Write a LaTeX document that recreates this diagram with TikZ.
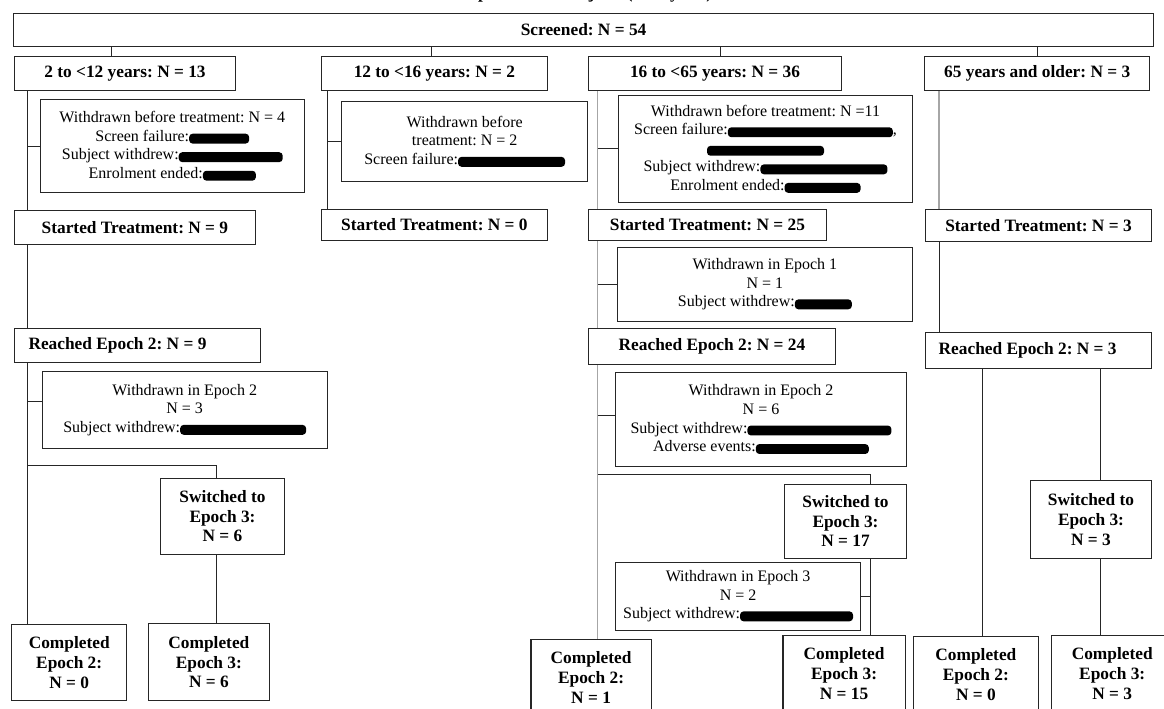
\documentclass[tikz,border=0pt]{standalone}
\usepackage{fontspec}
\setmainfont{Liberation Serif}
\usetikzlibrary{calc,positioning,backgrounds}

% redaction mark
\newcommand{\blot}[1]{\tikz[baseline=0pt]\fill[rounded corners=2.6pt] (0pt,-1.8pt) rectangle (#1*0.75pt,5.6pt);}

\begin{document}
\frenchspacing
\begin{tikzpicture}[x=0.75pt, y=-0.75pt,
  wh/.style 2 args={minimum width=#1*0.75pt, minimum height=#2*0.75pt},
  hdr/.style={draw=black!85, line width=0.8pt, fill=white, inner sep=0pt, align=center, font=\bfseries\fontsize{13}{14.8}\selectfont},
  note/.style={draw=black!85, line width=0.8pt, fill=white, inner sep=0pt, align=center, font=\fontsize{12}{13.9}\selectfont},
  link/.style={line width=0.75pt, black!85},
  greylink/.style={line width=1pt, black!35}]
  \useasboundingbox (0,0) rectangle (1164,708);

  \node[anchor=base, inner sep=0pt, font=\bfseries\fontsize{13}{15}\selectfont] (ttl) at (583,-1.5) {Disposition of Subjects (Safety Set)};
  \node[hdr, wh={1140.4}{32.7}] (scr) at (583.6,29.7) {Screened: N = 54};

  % age groups
  \node[hdr, wh={221}{34.7}] (a1) at (125,73.4) {2 to <12 years: N = 13};
  \node[hdr, wh={225.8}{34.7}] (a2) at (434.4,73.4) {12 to <16 years: N = 2};
  \node[hdr, wh={253.6}{34.7}] (a3) at (715,73.4) {16 to <65 years: N = 36};
  \node[hdr, wh={225.3}{34.7}] (a4) at (1037.2,73.4) {65 years and older: N = 3};

  % withdrawn before treatment
  \node[note, wh={264.1}{93.4}] (wb1) at (172.3,146) {Withdrawn before treatment: N = 4\\Screen failure:\blot{60}\\Subject withdrew:\blot{104}\\Enrolment ended:\blot{53}};
  \node[note, wh={245.7}{79.3}] (wb2) at (464.7,141.4) {Withdrawn before\\treatment: N = 2\\Screen failure:\blot{107}};
  \node[note, wh={294.2}{107.7}] (wb3) at (765.5,148.9) {Withdrawn before treatment: N =11\\Screen failure:\blot{165},\\\blot{117}\\Subject withdrew:\blot{127}\\Enrolment ended:\blot{76}};

  % started treatment
  \node[hdr, wh={240.8}{33.6}] (st1) at (134.9,227.5) {Started Treatment: N = 9};
  \node[hdr, wh={225.8}{31.4}] (st2) at (434.4,225) {Started Treatment: N = 0};
  \node[hdr, wh={238.4}{31.4}] (st3) at (707.4,225) {Started Treatment: N = 25};
  \node[hdr, wh={226.4}{31.4}] (st4) at (1038.5,225.4) {Started Treatment: N = 3};

  \node[note, wh={295.4}{74.4}] (we1c3) at (764.9,284.5) {Withdrawn in Epoch 1\\N = 1\\Subject withdrew:\blot{57}};

  % reached epoch 2
  \node[hdr, wh={245.7}{34}] (re1) at (137.4,345.3) {\makebox[163.3pt][l]{Reached Epoch 2: N = 9}};
  \node[hdr, wh={247.7}{36}] (re3) at (712,346.3) {Reached Epoch 2: N = 24};
  \node[hdr, wh={226.4}{35.6}] (re4) at (1038.5,350.5) {\makebox[149.7pt][l]{Reached Epoch 2: N = 3}};

  \node[note, wh={285.1}{76.6}] (we2c1) at (184.7,410) {Withdrawn in Epoch 2\\N = 3\\Subject withdrew:\blot{126}};
  \node[note, wh={291.2}{93.3}] (we2c3) at (761,419.4) {Withdrawn in Epoch 2\\N = 6\\Subject withdrew:\blot{144}\\Adverse events:\blot{113}};

  % switched to epoch 3
  \node[hdr, wh={123.6}{76}] (sw1) at (222.5,516.3) {Switched to\\Epoch 3:\\N = 6};
  \node[hdr, wh={121.1}{74.3}] (sw3) at (845.5,521.2) {Switched to\\Epoch 3:\\N = 17};
  \node[hdr, wh={121.1}{77.6}] (sw4) at (1091,519.5) {Switched to\\Epoch 3:\\N = 3};

  \node[note, wh={245.6}{68.4}] (we3c3) at (738.1,596.5) {Withdrawn in Epoch 3\\N = 2\\Subject withdrew:\blot{113}};

  % completed
  \node[hdr, wh={115.2}{76.2}] (ce2c1) at (69.2,662.6) {Completed\\Epoch 2:\\N = 0};
  \node[hdr, wh={121.3}{76.8}] (ce3c1) at (208.9,662.1) {Completed\\Epoch 3:\\N = 6};
  \node[hdr, wh={120.2}{76}] (ce2c3) at (591.1,677.5) {Completed\\Epoch 2:\\N = 1};
  \node[hdr, wh={122.2}{76}] (ce3c3) at (844.1,673.5) {Completed\\Epoch 3:\\N = 15};
  \node[hdr, wh={125.7}{76}] (ce2c4) at (975.9,674.5) {Completed\\Epoch 2:\\N = 0};
  \node[hdr, wh={121}{76}] (ce3c4) at (1112.2,673.5) {Completed\\Epoch 3:\\N = 3};

  \begin{scope}[on background layer]
    % drops from screened
    \coordinate (d1) at ($(a1.north)+(-14,0)$);
    \coordinate (d2) at ($(a2.north)+(-3,0)$);
    \coordinate (d3) at ($(a3.north)+(5,0)$);
    \draw[link] (d1) -- (d1 |- scr.south);
    \draw[link] (d2) -- (d2 |- scr.south);
    \draw[link] (d3) -- (d3 |- scr.south);
    \draw[link] (a4.north) -- (a4.north |- scr.south);

    % 2 to <12
    \coordinate (t1) at ($(a1.south west)+(14,0)$);
    \coordinate (w21) at ($(we2c1.west)+(0,-9)$);
    \coordinate (s1) at ($(sw1.north)+(-6,0)$);
    \coordinate (j1) at ($(s1)+(0,-12)$);
    \draw[link] (t1) -- (t1 |- ce2c1.north);
    \draw[link] (t1 |- wb1.west) -- (wb1.west);
    \draw[link] (t1 |- w21) -- (w21);
    \draw[link] (t1 |- j1) -| (s1);
    \draw[link] (sw1.south -| s1) -- (ce3c1.north -| s1);

    % 12 to <16
    \coordinate (t2) at ($(a2.south west)+(7,0)$);
    \draw[link] (t2) -- (t2 |- st2.north);
    \draw[link] (t2 |- wb2.west) -- (wb2.west);

    % 16 to <65
    \coordinate (t3) at ($(a3.south west)+(10,0)$);
    \coordinate (w23) at ($(we2c3.west)+(0,-4)$);
    \coordinate (s3) at ($(sw3.north)+(25,0)$);
    \coordinate (j3) at ($(s3)+(0,-9)$);
    \draw[greylink] (t3) -- (t3 |- ce2c3.north);
    \draw[link] (t3 |- wb3.west) -- (wb3.west);
    \draw[link] (t3 |- we1c3.west) -- (we1c3.west);
    \draw[link] (t3 |- w23) -- (w23);
    \draw[link] (t3 |- j3) -| (s3);
    \draw[link] (sw3.south -| s3) -- (ce3c3.north -| s3);
    \draw[link] (we3c3.east) -- (we3c3.east -| s3);

    % 65 and older
    \coordinate (t4) at ($(a4.south west)+(15,0)$);
    \coordinate (u4) at ($(re4.south)+(-56.5,0)$);
    \coordinate (s4) at ($(sw4.north)+(9.5,0)$);
    \draw[greylink] (t4) -- (t4 |- st4.north);
    \draw[link] (t4 |- st4.south) -- (t4 |- re4.north);
    \draw[link] (u4) -- (u4 |- ce2c4.north);
    \draw[link] (s4 |- re4.south) -- (s4);
    \draw[link] (sw4.south -| s4) -- (ce3c4.north -| s4);
  \end{scope}
\end{tikzpicture}
\end{document}
